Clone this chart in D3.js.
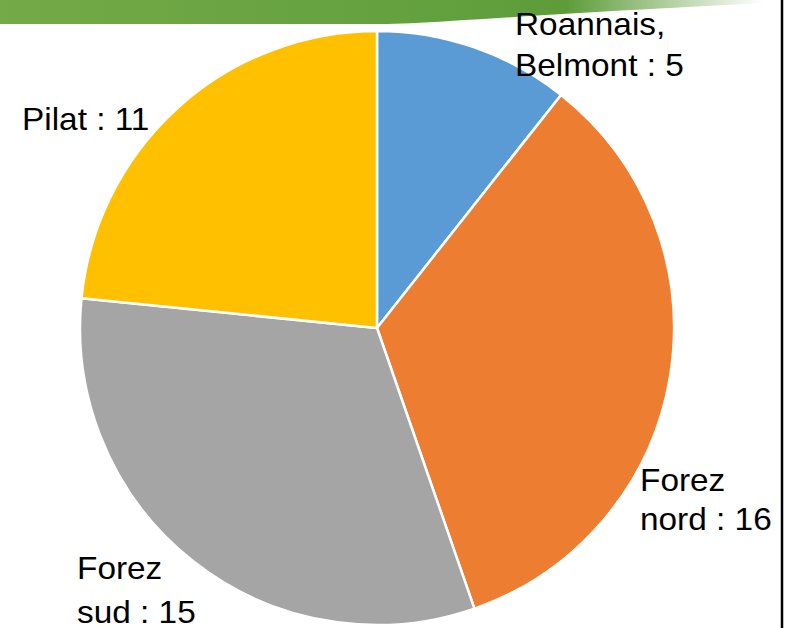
<!DOCTYPE html>
<html>
<head>
<meta charset="utf-8">
<script src="https://cdn.jsdelivr.net/npm/d3@7"></script>
<style>
  html, body { margin: 0; padding: 0; background: #fff; }
  svg { display: block; }
</style>
</head>
<body>
<svg id="chart" width="787" height="628"></svg>
<script>
// Data
const categories = ["Roannais, Belmont", "Forez nord", "Forez sud", "Pilat"];
const values = [5, 16, 15, 11];
const labelLines = [["Roannais,", "Belmont : 5"], ["Forez", "nord : 16"], ["Forez", "sud : 15"], ["Pilat : 11"]];
const colors = ["#5b9bd5", "#ed7d31", "#a5a5a5", "#ffc000"];

// Layout (label anchors: x, first baseline, line gaps)
const labelLayout = [
  { x: 515, y: 35, dy: 41 },
  { x: 640, y: 491, dy: 39 },
  { x: 77, y: 579, dy: 44 },
  { x: 22, y: 130, dy: 40 }
];

const W = 787, H = 628;
const cx = 377, cy = 328, R = 297;
const svg = d3.select("#chart");

// header decoration (green swoosh)
const defs = svg.append("defs");
const grad = defs.append("linearGradient").attr("id", "hdr").attr("x1", "0").attr("x2", "1").attr("y1", "0").attr("y2", "0");
grad.append("stop").attr("offset", "0").attr("stop-color", "#74aa47");
grad.append("stop").attr("offset", "0.45").attr("stop-color", "#66a240");
grad.append("stop").attr("offset", "0.72").attr("stop-color", "#5e9c3a");
grad.append("stop").attr("offset", "0.97").attr("stop-color", "#ffffff");
svg.append("path")
  .attr("d", "M0,0 L787,0 L787,2 C700,6 560,14 450,21 C420,23 400,24 380,24 L0,24 Z")
  .attr("fill", "url(#hdr)");

// pie
const pie = d3.pie().sort(null).value(d => d)(values);
const arc = d3.arc().innerRadius(0).outerRadius(R);
const g = svg.append("g").attr("transform", `translate(${cx},${cy})`);
g.selectAll("path.slice")
  .data(pie)
  .join("path")
  .attr("class", "slice")
  .attr("d", arc)
  .attr("fill", (d, i) => colors[i])
  .attr("stroke", "#ffffff")
  .attr("stroke-width", 2.5)
  .attr("stroke-linejoin", "round");

// labels
labelLines.forEach((lines, i) => {
  const L = labelLayout[i];
  lines.forEach((t, j) => {
    svg.append("text")
      .attr("transform", `translate(${L.x},${L.y + j * L.dy}) scale(1.06,1)`)
      .attr("font-family", "'Liberation Sans', Arial, sans-serif")
      .attr("font-size", 31.5)
      .attr("fill", "#000")
      .text(t);
  });
});

// right border line
svg.append("line")
  .attr("x1", 782).attr("x2", 782).attr("y1", 0).attr("y2", H)
  .attr("stroke", "#000").attr("stroke-width", 2.5);
</script>
</body>
</html>
